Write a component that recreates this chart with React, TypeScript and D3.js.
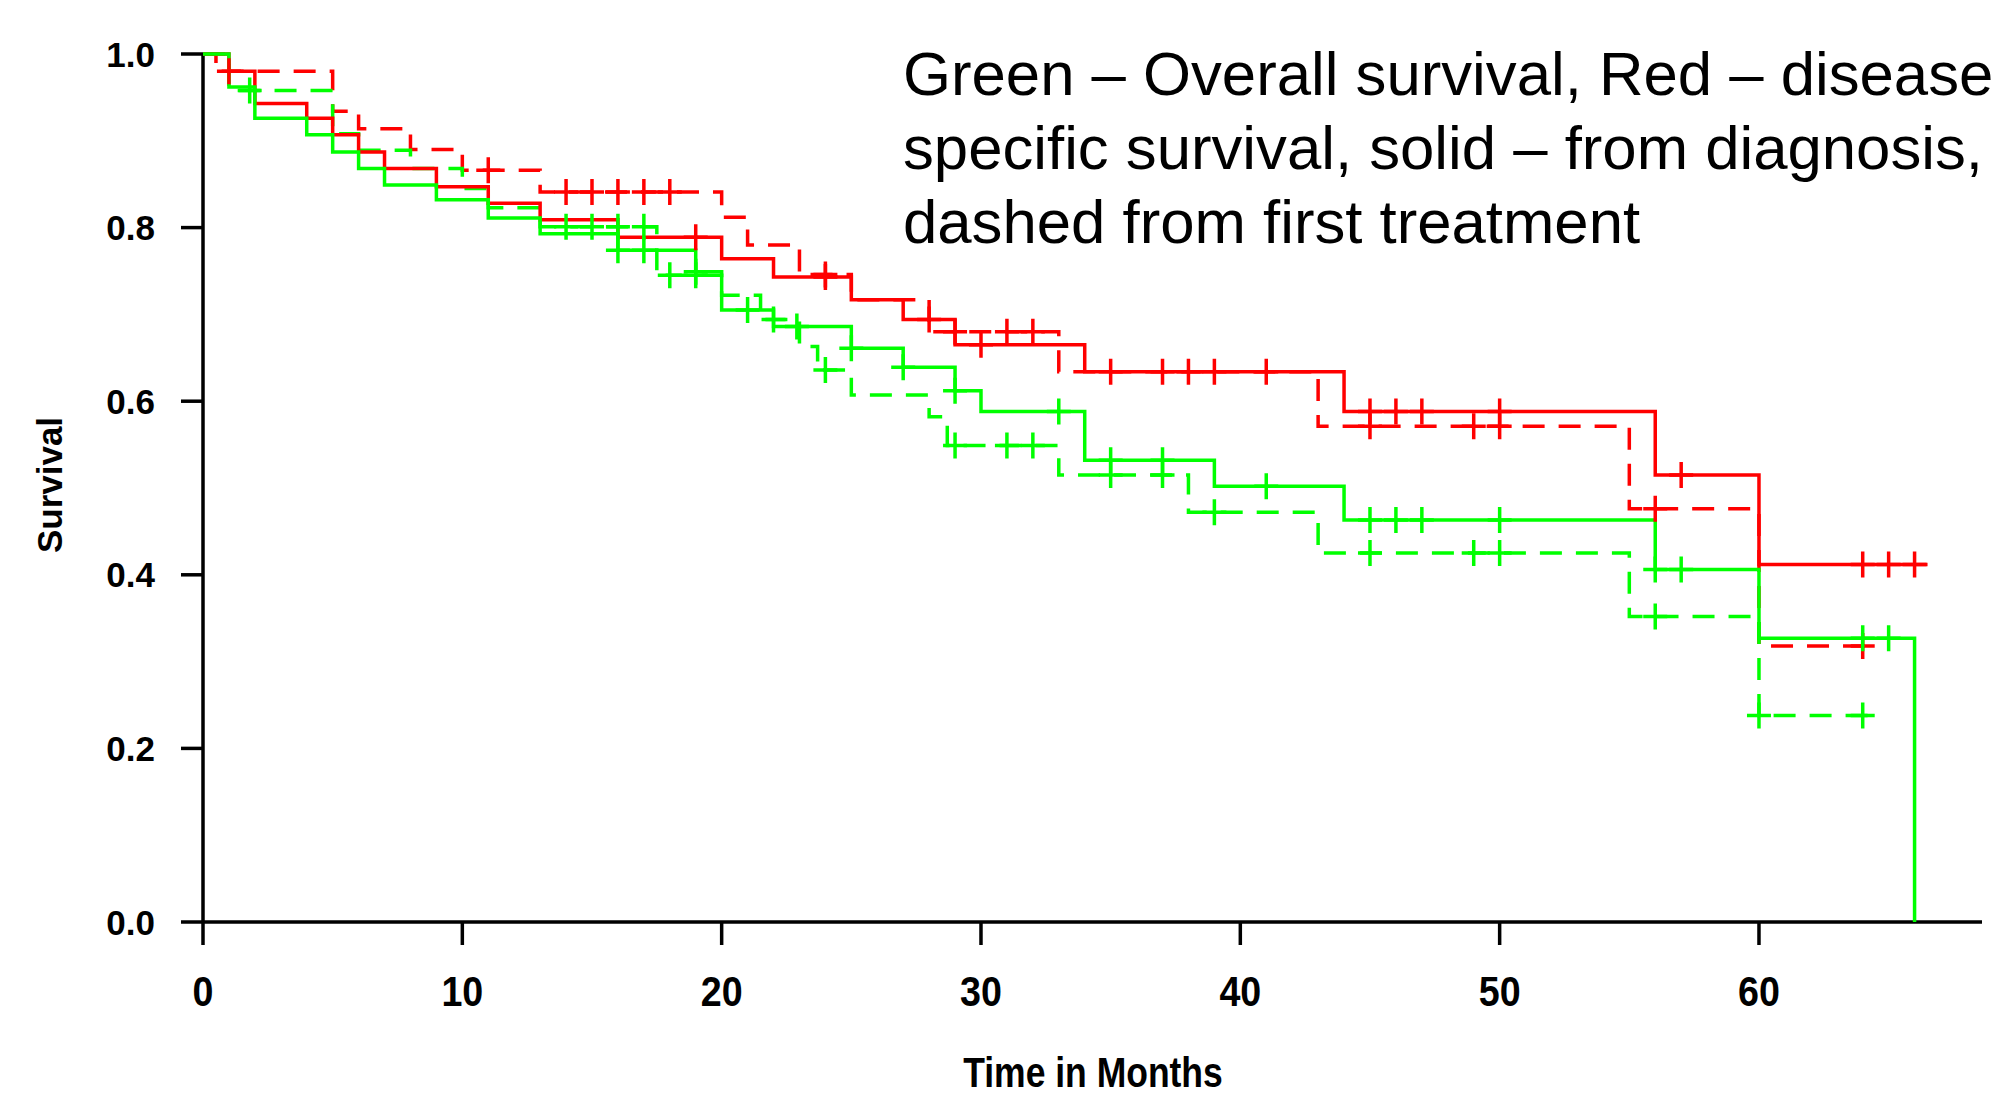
import React from 'react';
import * as d3 from 'd3';

// Kaplan-Meier steps: time (months) at which the curve drops, and the survival after the drop
const osDxTimes = [0, 1, 2, 4, 5, 6, 7, 9, 11, 13, 16, 19, 20, 22, 25, 27, 29, 30, 34, 39, 44, 56, 60, 66];
const osDxSurv = [1, 0.962, 0.926, 0.907, 0.887, 0.868, 0.849, 0.832, 0.811, 0.793, 0.774, 0.749, 0.705, 0.686, 0.661, 0.639, 0.612, 0.588, 0.532, 0.502, 0.463, 0.406, 0.327, 0];
const osDxCensor = [16, 17, 19, 21, 22.9, 25, 27, 29, 33, 35, 37, 41, 45, 46, 47, 50, 56, 57, 64, 65];

const dssDxTimes = [0, 1, 2, 4, 5, 6, 7, 9, 11, 13, 16, 20, 22, 25, 27, 29, 34, 44, 56, 60, 66.5];
const dssDxSurv = [1, 0.98, 0.943, 0.926, 0.907, 0.887, 0.868, 0.847, 0.828, 0.809, 0.789, 0.764, 0.743, 0.717, 0.694, 0.665, 0.634, 0.588, 0.515, 0.412, 0.412];
const dssDxCensor = [19, 24, 28, 30, 35, 37, 38, 39, 41, 45, 46, 47, 50, 57, 64, 65, 66];

const osTxTimes = [0, 1, 5, 6, 8, 10, 11, 13, 17.5, 20, 21.5, 23, 23.7, 25, 28, 28.7, 33, 38, 43, 55, 60, 64.5];
const osTxSurv = [1, 0.958, 0.908, 0.889, 0.868, 0.845, 0.823, 0.801, 0.745, 0.722, 0.694, 0.663, 0.636, 0.607, 0.582, 0.549, 0.515, 0.472, 0.425, 0.352, 0.238, 0.238];
const osTxCensor = [1.8, 14, 15, 16, 17, 18, 19, 22, 24, 29, 31, 32, 35, 37, 39, 45, 49, 50, 56, 60, 64];

const dssTxTimes = [0, 0.5, 5, 6, 8, 10, 13, 20, 21, 23, 25, 28, 33, 43, 55, 60, 64.5];
const dssTxSurv = [1, 0.98, 0.934, 0.914, 0.89, 0.866, 0.841, 0.812, 0.78, 0.746, 0.717, 0.68, 0.634, 0.571, 0.476, 0.318, 0.318];
const dssTxCensor = [1, 11, 14, 15, 16, 17, 18, 24, 29, 31, 32, 45, 49, 50, 56, 64];

const xTicks = [0, 10, 20, 30, 40, 50, 60];
const yTicks = [0, 0.2, 0.4, 0.6, 0.8, 1.0];

const noteLines = [
  'Green \u2013 Overall survival, Red \u2013 disease',
  'specific survival, solid \u2013 from diagnosis,',
  'dashed from first treatment',
];

type Curve = { times: number[]; surv: number[]; censor: number[]; color: string; dashed: boolean };

const curves: Curve[] = [
  { times: dssTxTimes, surv: dssTxSurv, censor: dssTxCensor, color: '#ff0000', dashed: true },
  { times: osTxTimes, surv: osTxSurv, censor: osTxCensor, color: '#00ff00', dashed: true },
  { times: dssDxTimes, surv: dssDxSurv, censor: dssDxCensor, color: '#ff0000', dashed: false },
  { times: osDxTimes, surv: osDxSurv, censor: osDxCensor, color: '#00ff00', dashed: false },
];

const font = '"Liberation Sans", Arial, sans-serif';

export default function App() {
  const width = 2003;
  const height = 1097;

  // scales
  const x = d3.scaleLinear().domain([0, 68.6]).range([203, 1982]);
  const y = d3.scaleLinear().domain([0, 1]).range([922, 54]);

  const line = d3.line<[number, number]>()
    .x(d => x(d[0]))
    .y(d => y(d[1]))
    .curve(d3.curveStepAfter);

  // survival level of a curve at time t
  const levelAt = (c: Curve, t: number) => {
    const i = d3.bisectRight(c.times, t) - 1;
    return c.surv[Math.max(0, i)];
  };

  const paths = curves.map((c, i) => {
    const pts = c.times.map((t, j) => [t, c.surv[j]] as [number, number]);
    return (
      <path key={'c' + i}
            d={line(pts) || ''}
            fill="none"
            stroke={c.color}
            strokeWidth={3.5}
            strokeDasharray={c.dashed ? '22 14' : undefined} />
    );
  });

  const marks = curves.map((c, i) =>
    c.censor.map((t, j) => {
      const cx = x(t);
      const cy = y(levelAt(c, t));
      return (
        <path key={'m' + i + '-' + j}
              d={`M${cx - 12},${cy}h24M${cx},${cy - 13}v26`}
              stroke={c.color}
              strokeWidth={3.5}
              fill="none" />
      );
    })
  );

  return (
    <div>
      <svg width={width} height={height}
           style={{ position: 'absolute', left: 0, top: 0, background: '#fff' }}>
        <rect x={0} y={0} width={width} height={height} fill="#fff" />

        {/* axes */}
        <g stroke="#000" strokeWidth={3.5} fill="none">
          <line x1={x(0)} x2={x(0)} y1={y(1)} y2={y(0)} />
          <line x1={x(0)} x2={x(68.6)} y1={y(0)} y2={y(0)} />
          {yTicks.map(t => (
            <line key={'yt' + t} x1={x(0) - 22} x2={x(0)} y1={y(t)} y2={y(t)} />
          ))}
          {xTicks.map(t => (
            <line key={'xt' + t} x1={x(t)} x2={x(t)} y1={y(0)} y2={y(0) + 23} />
          ))}
        </g>

        <g fontFamily={font} fontWeight="bold" fill="#000">
          {yTicks.map(t => (
            <text key={'yl' + t} x={155} y={y(t)} dy="0.36em" textAnchor="end" fontSize={35}>
              {t.toFixed(1)}
            </text>
          ))}
          {xTicks.map(t => (
            <text key={'xl' + t} transform={`translate(${x(t)},1006) scale(0.875,1)`}
                  textAnchor="middle" fontSize={43}>
              {t}
            </text>
          ))}
          <text transform="translate(1093,1087) scale(0.845,1)" textAnchor="middle" fontSize={42}>
            Time in Months
          </text>
          <text transform="translate(62,485) rotate(-90)" textAnchor="middle" fontSize={35}>
            Survival
          </text>
        </g>

        {paths}
        {marks}

        <g fontFamily={font} fontSize={61.7} fill="#000">
          {noteLines.map((s, i) => (
            <text key={'n' + i} x={903} y={95 + i * 74}>{s}</text>
          ))}
        </g>
      </svg>
    </div>
  );
}
